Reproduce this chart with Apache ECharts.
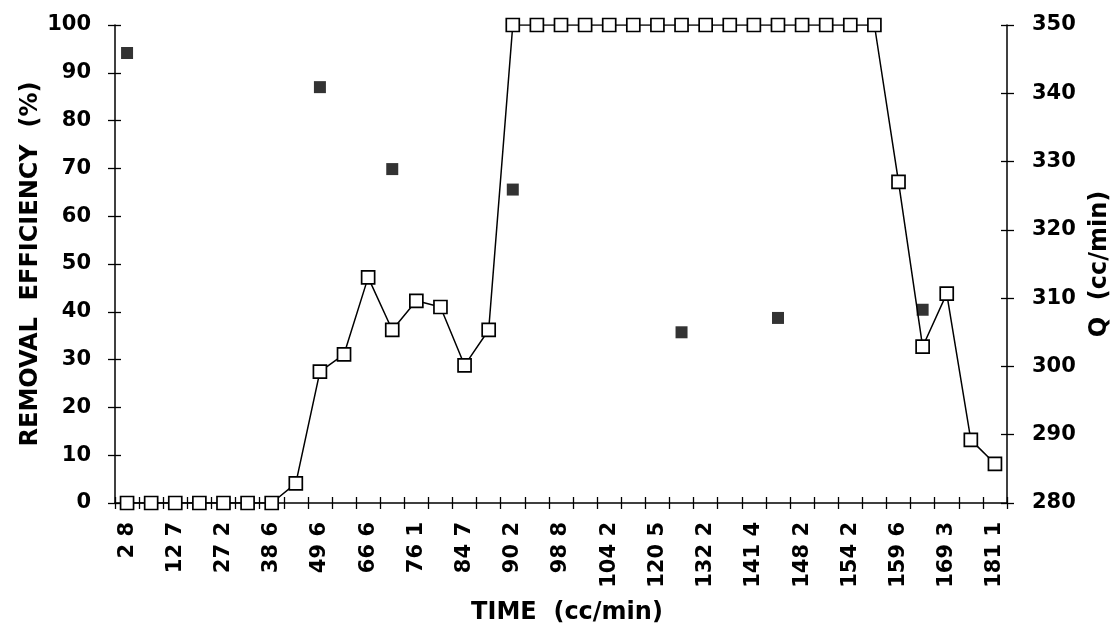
<!DOCTYPE html>
<html>
<head>
<meta charset="utf-8">
<script src="https://cdn.jsdelivr.net/npm/echarts@6/dist/echarts.min.js"></script>
<style>
  html, body { margin: 0; padding: 0; background: #fff; }
  #chart { width: 1118px; height: 633px; }
</style>
</head>
<body>
<div id="chart"></div>
<script>
// Tick labels shown under every other category (time)
var timeLabels = ['2 8', '12 7', '27 2', '38 6', '49 6', '66 6', '76 1', '84 7', '90 2', '98 8',
  '104 2', '120 5', '132 2', '141 4', '148 2', '154 2', '159 6', '169 3', '181 1'];

// Removal efficiency (%) — open squares, left axis (37 samples)
var removalEfficiency = [0, 0, 0, 0, 0, 0, 0, 4.1, 27.5, 31.1,
  47.2, 36.2, 42.3, 41.0, 28.8, 36.2, 100, 100, 100, 100,
  100, 100, 100, 100, 100, 100, 100, 100, 100, 100,
  100, 100, 67.2, 32.7, 43.8, 13.2, 8.2];

// Q (cc/min) — filled squares, right axis
var flowQ = [345.9, null, null, null, null, null, null, null, 340.9, null,
  null, 328.9, null, null, null, null, 325.9, null, null, null,
  null, null, null, 305.0, null, null, null, 307.1, null, null,
  null, null, null, 308.3, null, null, null];

// Categories: labelled samples with unlabelled samples between them
var categories = [];
timeLabels.forEach(function (t, i) {
  categories.push(t);
  if (i < timeLabels.length - 1) categories.push('');
});

var FONT = "'DejaVu Sans', 'Liberation Sans', Arial, sans-serif";
var black = '#000';

var chart = echarts.init(document.getElementById('chart'), null, { renderer: 'canvas' });

var option = {
  animation: false,
  backgroundColor: '#fff',
  textStyle: { fontFamily: FONT, color: black },
  grid: { left: 115, right: 111, top: 25, bottom: 130, containLabel: false, outerBoundsMode: 'none' },
  xAxis: [{
    type: 'category',
    data: categories,
    boundaryGap: true,
    name: 'TIME  (cc/min)',
    nameLocation: 'middle',
    nameGap: 98,
    nameTextStyle: { fontFamily: FONT, fontWeight: 'bold', fontSize: 24, color: black, padding: [0, 0, 0, 12] },
    axisLine: { show: true, lineStyle: { color: black, width: 1.5 } },
    axisTick: { show: true, interval: 0, length: 6, inside: false, lineStyle: { color: black, width: 1.3 } },
    axisLabel: { interval: 0, rotate: 90, margin: 19, fontFamily: FONT, fontWeight: 'bold', fontSize: 21, color: black },
    splitLine: { show: false }
  }, {
    type: 'category',
    data: categories,
    position: 'bottom',
    boundaryGap: true,
    axisLine: { show: false },
    axisTick: { show: true, interval: 0, length: 6, inside: true, lineStyle: { color: black, width: 1.3 } },
    axisLabel: { show: false },
    splitLine: { show: false }
  }],
  yAxis: [{
    type: 'value',
    position: 'left',
    min: 0, max: 100, interval: 10,
    name: 'REMOVAL  EFFICIENCY  (%)',
    nameLocation: 'middle',
    nameRotate: 90,
    nameGap: 72,
    nameMoveOverlap: false,
    nameTextStyle: { fontFamily: FONT, fontWeight: 'bold', fontSize: 24, color: black },
    axisLine: { show: true, lineStyle: { color: black, width: 1.5 } },
    axisTick: { show: true, length: 7, lineStyle: { color: black, width: 1.3 } },
    axisLabel: { margin: 24, fontFamily: FONT, fontWeight: 'bold', fontSize: 21, color: black },
    splitLine: { show: false }
  }, {
    type: 'value',
    position: 'right',
    min: 280, max: 350, interval: 10,
    name: 'Q  (cc/min)',
    nameLocation: 'middle',
    nameRotate: 90,
    nameGap: 81,
    nameTextStyle: { fontFamily: FONT, fontWeight: 'bold', fontSize: 24, color: black },
    axisLine: { show: true, lineStyle: { color: black, width: 1.5 } },
    axisTick: { show: true, length: 7, lineStyle: { color: black, width: 1.3 } },
    axisLabel: { margin: 25, fontFamily: FONT, fontWeight: 'bold', fontSize: 21, color: black },
    splitLine: { show: false }
  }, {
    type: 'value',
    position: 'left',
    min: 0, max: 100, interval: 10,
    axisLine: { show: false },
    axisTick: { show: true, inside: true, length: 6, lineStyle: { color: black, width: 1.3 } },
    axisLabel: { show: false },
    splitLine: { show: false }
  }, {
    type: 'value',
    position: 'right',
    min: 280, max: 350, interval: 10,
    axisLine: { show: false },
    axisTick: { show: true, inside: true, length: 6, lineStyle: { color: black, width: 1.3 } },
    axisLabel: { show: false },
    splitLine: { show: false }
  }],
  series: [{
    name: 'Removal efficiency',
    type: 'line',
    xAxisIndex: 0,
    yAxisIndex: 0,
    data: removalEfficiency,
    symbol: 'rect',
    symbolSize: 13,
    showAllSymbol: true,
    lineStyle: { color: black, width: 1.5 },
    itemStyle: { color: '#fff', borderColor: black, borderWidth: 1.7 },
    z: 5
  }, {
    name: 'Q',
    type: 'scatter',
    xAxisIndex: 0,
    yAxisIndex: 1,
    data: flowQ,
    symbol: 'rect',
    symbolSize: 12,
    itemStyle: { color: black },
    z: 6
  }]
};

chart.setOption(option);
</script>
</body>
</html>
